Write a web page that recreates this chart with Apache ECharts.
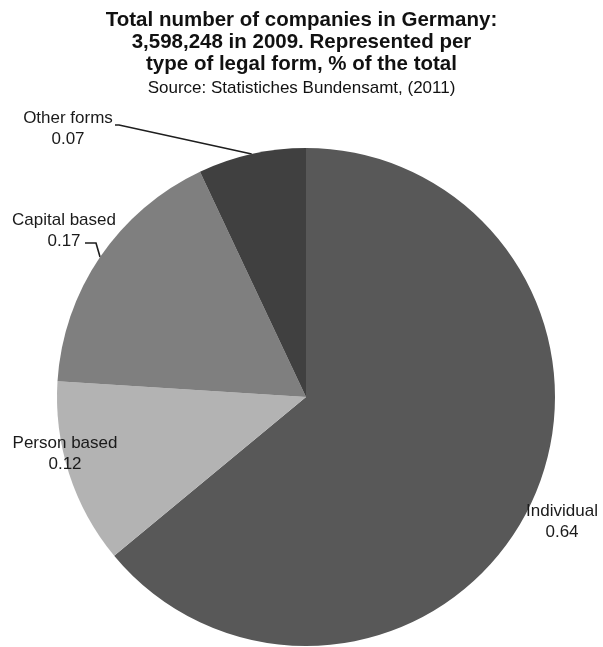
<!DOCTYPE html>
<html>
<head>
<meta charset="utf-8">
<script src="https://cdn.jsdelivr.net/npm/echarts@6/dist/echarts.min.js"></script>
<style>
  html, body { margin: 0; padding: 0; background: #fff; }
  #chart { width: 603px; height: 647px; }
</style>
</head>
<body>
<div id="chart"></div>
<script>
// Legal forms of German companies, 2009 (share of total)
const categories = ['Individual', 'Person based', 'Capital based', 'Other forms'];
const shares = [0.64, 0.12, 0.17, 0.07];
const sliceColors = ['#585858', '#b3b3b3', '#7f7f7f', '#404040'];

// Label centres, plus where each leader line meets its label (offsets from the centre)
const labelSpots = [
  { x: 562, y: 522 },
  { x: 65, y: 454 },
  { x: 64, y: 231 },
  { x: 68, y: 129 }
];
const leaderHooks = [
  null,
  null,
  { endDx: 21, bendDx: 32, dy: 12 },
  { endDx: 47, bendDx: 51, dy: -4 }
];

const FONT = '"Liberation Sans", Arial, Helvetica, sans-serif';

const chart = echarts.init(document.getElementById('chart'), null, { renderer: 'canvas' });

chart.setOption({
  animation: false,
  backgroundColor: '#ffffff',
  title: {
    text: 'Total number of companies in Germany:\n3,598,248 in 2009. Represented per\ntype of legal form, % of the total',
    subtext: 'Source: Statistiches Bundensamt, (2011)',
    left: 'center',
    top: 4,
    itemGap: 3,
    textStyle: { fontFamily: FONT, fontSize: 20.5, fontWeight: 'bold', color: '#111', lineHeight: 22 },
    subtextStyle: { fontFamily: FONT, fontSize: 17, color: '#111', lineHeight: 20 }
  },
  series: [{
    type: 'pie',
    center: [306, 397],
    radius: 249,
    startAngle: 90,
    clockwise: true,
    avoidLabelOverlap: false,
    data: categories.map((name, i) => ({
      name,
      value: shares[i],
      itemStyle: { color: sliceColors[i] },
      labelLine: { show: !!leaderHooks[i] }
    })),
    label: {
      show: true,
      position: 'outside',
      formatter: p => p.name + '\n' + p.value.toFixed(2),
      fontFamily: FONT,
      fontSize: 17,
      lineHeight: 20.5,
      color: '#1a1a1a',
      align: 'center'
    },
    labelLine: {
      length: 10,
      length2: 10,
      smooth: false,
      lineStyle: { color: '#1e1e1e', width: 1.6 }
    },
    labelLayout: p => {
      const spot = labelSpots[p.dataIndex];
      const hook = leaderHooks[p.dataIndex];
      const out = { x: spot.x, y: spot.y, align: 'center', verticalAlign: 'middle' };
      if (hook && p.labelLinePoints) {
        const edge = p.labelLinePoints[0];
        out.labelLinePoints = [
          [edge[0], edge[1]],
          [spot.x + hook.bendDx, spot.y + hook.dy],
          [spot.x + hook.endDx, spot.y + hook.dy]
        ];
      }
      return out;
    },
    emphasis: { disabled: true }
  }]
});
</script>
</body>
</html>
